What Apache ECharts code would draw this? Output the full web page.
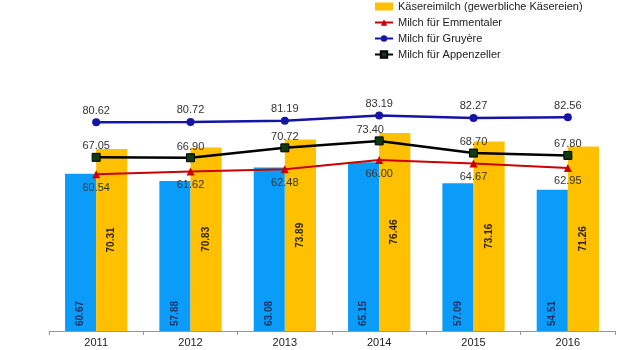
<!DOCTYPE html>
<html>
<head>
<meta charset="utf-8">
<script src="https://cdn.jsdelivr.net/npm/echarts@6/dist/echarts.min.js"></script>
<style>
  html, body { margin: 0; padding: 0; background: #fff; }
  #chart { width: 620px; height: 350px; }
</style>
</head>
<body>
<div id="chart"></div>
<script>
const years = ['2011', '2012', '2013', '2014', '2015', '2016']
const blueBars = [60.67, 57.88, 63.08, 65.15, 57.09, 54.51]
const kaesereiMilch = [70.31, 70.83, 73.89, 76.46, 73.16, 71.26]
const emmentaler = [60.54, 61.62, 62.48, 66.00, 64.67, 62.95]
const gruyere = [80.62, 80.72, 81.19, 83.19, 82.27, 82.56]
const appenzeller = [67.05, 66.90, 70.72, 73.40, 68.70, 67.80]

const chart = echarts.init(document.getElementById('chart'))
const font = 'Liberation Sans, Arial, sans-serif'
const fmt = (p) => p.value.toFixed(2)

chart.setOption({
    backgroundColor: '#fff',
    animation: false,
    textStyle: { fontFamily: font },
    legend: {
        orient: 'vertical',
        left: 374,
        top: 1,
        padding: 0,
        itemGap: 5,
        itemWidth: 18,
        itemHeight: 8,
        textStyle: { fontSize: 11, color: '#222', fontFamily: font },
        data: [
            { name: 'Käsereimilch (gewerbliche Käsereien)', icon: 'rect' },
            'Milch für Emmentaler',
            'Milch für Gruyère',
            'Milch für Appenzeller',
        ],
    },
    grid: { left: 49, right: 5, top: 72, bottom: 19 },
    xAxis: {
        type: 'category',
        data: years,
        axisLine: { lineStyle: { color: '#999' } },
        axisTick: { show: true, length: 4, lineStyle: { color: '#999' } },
        axisLabel: { color: '#222', fontSize: 11, margin: 6 },
    },
    yAxis: { type: 'value', min: 0, max: 100, show: false, splitLine: { show: false } },
    series: [
        {
            name: 'Milch (Blau)',
            type: 'bar',
            data: blueBars,
            barGap: '0%',
            barCategoryGap: '34%',
            itemStyle: { color: '#0a9cf8' },
            label: {
                show: true,
                rotate: 90,
                position: 'insideBottom',
                align: 'left',
                verticalAlign: 'middle',
                distance: 5,
                color: '#1c2f5c',
                fontSize: 10,
                fontWeight: 'bold',
                formatter: fmt,
            },
        },
        {
            name: 'Käsereimilch (gewerbliche Käsereien)',
            type: 'bar',
            data: kaesereiMilch,
            itemStyle: { color: '#ffc000' },
            label: {
                show: true,
                rotate: 90,
                position: 'inside',
                color: '#2a2200',
                fontSize: 10,
                fontWeight: 'bold',
                formatter: fmt,
            },
        },
        {
            name: 'Milch für Emmentaler',
            type: 'line',
            data: emmentaler,
            symbol: 'triangle',
            symbolSize: 8,
            itemStyle: { color: '#cc0000' },
            lineStyle: { color: '#cc0000', width: 2 },
            label: { show: true, position: 'bottom', distance: 4, color: '#333', fontSize: 11, formatter: fmt },
        },
        {
            name: 'Milch für Gruyère',
            type: 'line',
            data: gruyere,
            symbol: 'circle',
            symbolSize: 8,
            itemStyle: { color: '#1414a6' },
            lineStyle: { color: '#1414a6', width: 2.5 },
            label: { show: true, position: 'top', distance: 2, color: '#333', fontSize: 11, formatter: fmt },
        },
        {
            name: 'Milch für Appenzeller',
            type: 'line',
            data: appenzeller.map((v, i) => i === 3
                ? { value: v, label: { offset: [-9, 0] } }
                : v),
            symbol: 'rect',
            symbolSize: 8,
            itemStyle: { color: '#0f3a12', borderColor: '#000', borderWidth: 1 },
            lineStyle: { color: '#000', width: 2.5 },
            label: { show: true, position: 'top', distance: 1, color: '#333', fontSize: 11, formatter: fmt },
        },
    ],
})
</script>
</body>
</html>
